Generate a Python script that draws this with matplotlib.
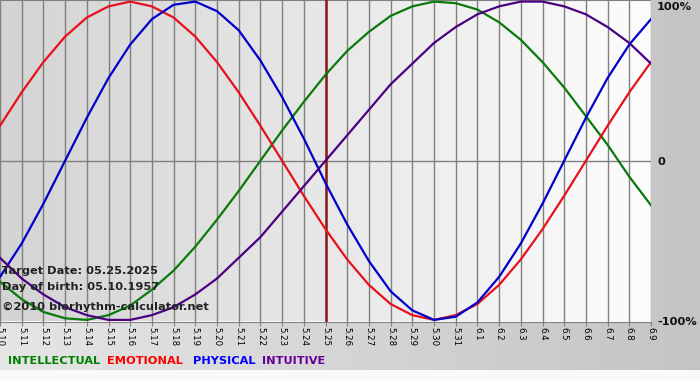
import numpy as np
import matplotlib
matplotlib.use("Agg")
import matplotlib.pyplot as plt

# days shown on the x axis (5.10 .. 6.9)
day_labels = ["5.10", "5.11", "5.12", "5.13", "5.14", "5.15", "5.16", "5.17", "5.18",
              "5.19", "5.20", "5.21", "5.22", "5.23", "5.24", "5.25", "5.26", "5.27",
              "5.28", "5.29", "5.30", "5.31", "6.1", "6.2", "6.3", "6.4", "6.5", "6.6",
              "6.7", "6.8", "6.9"]

# cycle values, -1 .. 1 (one per day)
physical = [-0.73, -0.52, -0.27, 0.00, 0.27, 0.52, 0.73, 0.89, 0.98, 1.00, 0.94,
            0.82, 0.63, 0.40, 0.14, -0.14, -0.40, -0.63, -0.82, -0.94, -1.00, -0.98,
            -0.89, -0.73, -0.52, -0.27, 0.00, 0.27, 0.52, 0.73, 0.89]
emotional = [0.22, 0.43, 0.62, 0.78, 0.90, 0.97, 1.00, 0.97, 0.90, 0.78, 0.62,
             0.43, 0.22, 0.00, -0.22, -0.43, -0.62, -0.78, -0.90, -0.97, -1.00, -0.97,
             -0.90, -0.78, -0.62, -0.43, -0.22, 0.00, 0.22, 0.43, 0.62]
intellectual = [-0.76, -0.87, -0.95, -0.99, -1.00, -0.97, -0.91, -0.81, -0.69, -0.54, -0.37,
                -0.19, 0.00, 0.19, 0.37, 0.54, 0.69, 0.81, 0.91, 0.97, 1.00, 0.99,
                0.95, 0.87, 0.76, 0.62, 0.46, 0.28, 0.10, -0.10, -0.28]
intuitive = [-0.61, -0.74, -0.84, -0.92, -0.97, -1.00, -1.00, -0.97, -0.92, -0.84, -0.74,
             -0.61, -0.48, -0.32, -0.16, 0.00, 0.16, 0.32, 0.48, 0.61, 0.74, 0.84,
             0.92, 0.97, 1.00, 1.00, 0.97, 0.92, 0.84, 0.74, 0.61]

target_label = "5.25"
series_names = ["INTELLECTUAL", "EMOTIONAL", "PHYSICAL", "INTUITIVE"]

W, H = 700, 380
fig = plt.figure(figsize=(W / 100, H / 100), dpi=100)

# outer background: light at left, darker grey at right
bg = fig.add_axes([0, 0, 1, 1])
bg.set_axis_off()
grad = np.linspace(0, 1, 256)
outer = np.empty((2, 256, 3))
outer[:] = (np.array([0.90, 0.90, 0.90])[None, :] * (1 - grad[:, None])
            + np.array([0.77, 0.77, 0.77])[None, :] * grad[:, None])
bg.imshow(outer, extent=[0, 1, 0, 1], aspect="auto")
# white strip at the very bottom
bg.imshow(np.ones((2, 2, 3)) * 0.98, extent=[0, 1, 0, 10 / H], aspect="auto")
bg.set_xlim(0, 1)
bg.set_ylim(0, 1)

plot_h = 321.5
ax = fig.add_axes([0, 1 - plot_h / H, 651 / W, plot_h / H])
x = np.arange(len(day_labels))

# plot area gradient: grey at left to white at right
inner = np.empty((2, 256, 3))
inner[:] = (np.array([0.83, 0.83, 0.83])[None, :] * (1 - grad[:, None])
            + np.array([0.99, 0.99, 0.99])[None, :] * grad[:, None])
ax.imshow(inner, extent=[0, len(x) - 1, -1.01, 1.01], aspect="auto", zorder=0)

for xi in x:
    ax.axvline(xi, color="#808080", lw=1, zorder=1)
ax.axhline(0, color="#808080", lw=1, zorder=1)
ax.axhline(1.01, color="#808080", lw=1.5, zorder=1)

ax.axvline(day_labels.index(target_label), color="#8b1a1a", lw=1.8, zorder=2)

ax.plot(x, intellectual, color="#0a7a0a", lw=1.6, zorder=3)
ax.plot(x, emotional, color="#e8101c", lw=1.6, zorder=3)
ax.plot(x, physical, color="#0000cc", lw=1.6, zorder=3)
ax.plot(x, intuitive, color="#4b0082", lw=1.6, zorder=3)

ax.set_xlim(0, len(x) - 1)
ax.set_ylim(-1.01, 1.01)
ax.set_xticks(x)
ax.set_xticklabels(day_labels, rotation=270, fontsize=6.2, family="DejaVu Sans")
ax.tick_params(axis="x", length=3, color="#808080", pad=1)
ax.set_yticks([])
for s in ["top", "left", "right"]:
    ax.spines[s].set_visible(False)
ax.spines["bottom"].set_color("#808080")

fs = 8.2
info_kw = dict(fontsize=fs, fontweight="bold", color="#222222", va="center")
fig.text(2 / W, 1 - 271 / H, "Target Date: 05.25.2025", **info_kw)
fig.text(2 / W, 1 - 287 / H, "Day of birth: 05.10.1957", **info_kw)
fig.text(2 / W, 1 - 307 / H, "\u00a92010 biorhythm-calculator.net", **info_kw)

right_kw = dict(fontsize=fs, fontweight="bold", color="#111111", va="center")
fig.text(657 / W, 1 - 7 / H, "100%", **right_kw)
fig.text(657 / W, 1 - 162 / H, "0", **right_kw)
fig.text(657 / W, 1 - 322 / H, "-100%", **right_kw)

legend_colors = ["#008000", "#ff0000", "#0000ff", "#660099"]
legend_x = [8, 107, 193, 262]
for name, col, lx in zip(series_names, legend_colors, legend_x):
    fig.text(lx / W, 1 - 361 / H, name, fontsize=fs, fontweight="bold",
             color=col, va="center")

fig.savefig("out.png", dpi=100)
